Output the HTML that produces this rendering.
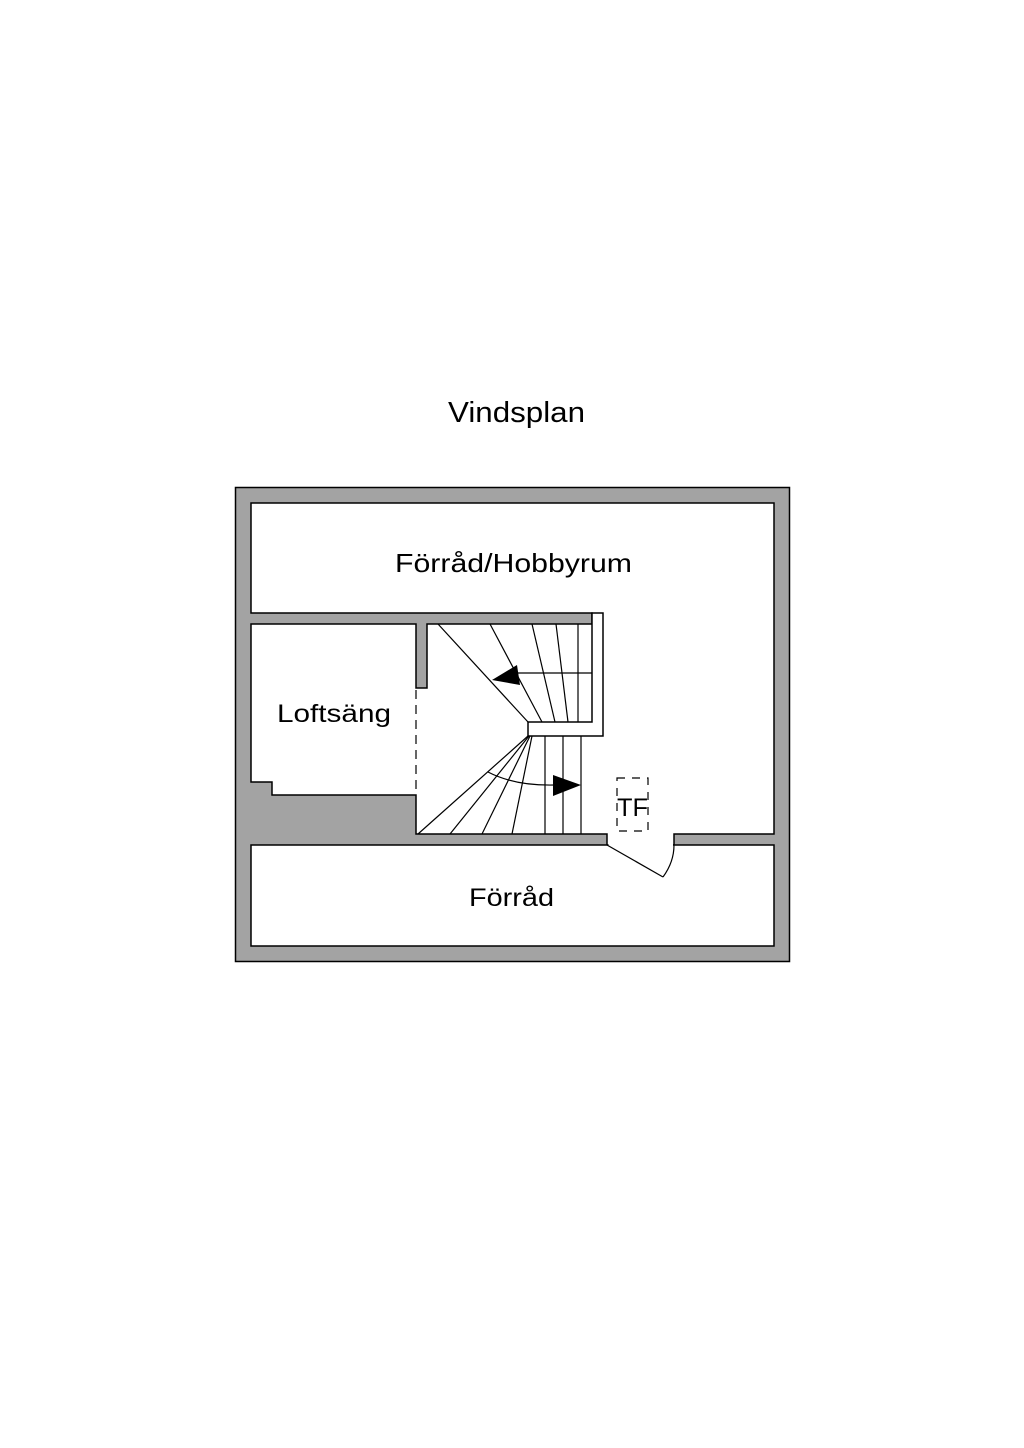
<!DOCTYPE html>
<html><head><meta charset="utf-8"><style>html,body{margin:0;padding:0;background:#fff;width:1024px;height:1448px;overflow:hidden}svg{display:block}</style></head>
<body>
<svg width="1024" height="1448" viewBox="0 0 1024 1448" xmlns="http://www.w3.org/2000/svg" font-family="Liberation Sans, sans-serif">
<text x="448" y="422" font-size="29" textLength="137" lengthAdjust="spacingAndGlyphs">Vindsplan</text>
<rect x="235.5" y="487.5" width="554" height="474" fill="#a3a3a3" stroke="#000" stroke-width="1.5"/>
<polygon points="251,503 774,503 774,834 674,834 674,845 607,845 607,834 416,834 416,795 272,795 272,782 251,782 251,624 416,624 416,688 427,688 427,624 592,624 592,613 251,613" fill="#fff" stroke="#000" stroke-width="1.5"/>
<rect x="251" y="845" width="523" height="101" fill="#fff" stroke="#000" stroke-width="1.5"/>
<line x1="608.5" y1="845" x2="673" y2="845" stroke="#fff" stroke-width="3"/>
<polygon points="592,613 603,613 603,736 528,736 528,722 592,722" fill="#fff" stroke="#000" stroke-width="1.5"/>
<g stroke="#000" stroke-width="1.2" fill="none">
<line x1="438" y1="624" x2="528" y2="722"/>
<line x1="490" y1="624" x2="542" y2="722"/>
<line x1="532" y1="624" x2="555" y2="722"/>
<line x1="556" y1="624" x2="568" y2="722"/>
<line x1="578" y1="624" x2="578" y2="722"/>
<line x1="517" y1="673" x2="592" y2="673"/>
<path d="M517,673 Q510,676 505,678"/>
<line x1="528" y1="736" x2="418" y2="834"/>
<line x1="529" y1="736" x2="450" y2="834"/>
<line x1="530" y1="736" x2="482" y2="834"/>
<line x1="532" y1="736" x2="512" y2="834"/>
<line x1="545" y1="736" x2="545" y2="834"/>
<line x1="563" y1="736" x2="563" y2="834"/>
<line x1="581" y1="736" x2="581" y2="834"/>
<path d="M488,772 Q515,786 555,785"/>
<line x1="416" y1="690" x2="416" y2="795" stroke-dasharray="9,6"/>
<line x1="607" y1="845" x2="663" y2="877"/>
<path d="M663,877 Q674,862 674,845"/>
<rect x="617" y="778" width="31" height="53" stroke-dasharray="8,7"/>
</g>
<polygon points="492,680 517,665 520,685" fill="#000"/>
<polygon points="581,785 553,775 553,796" fill="#000"/>
<text x="395" y="572" font-size="26" textLength="237" lengthAdjust="spacingAndGlyphs">Förråd/Hobbyrum</text>
<text x="277" y="722" font-size="25" textLength="114" lengthAdjust="spacingAndGlyphs">Loftsäng</text>
<text x="617" y="816" font-size="25" textLength="31" lengthAdjust="spacingAndGlyphs">TF</text>
<text x="469" y="906" font-size="25" textLength="85" lengthAdjust="spacingAndGlyphs">Förråd</text>
</svg>
</body></html>
